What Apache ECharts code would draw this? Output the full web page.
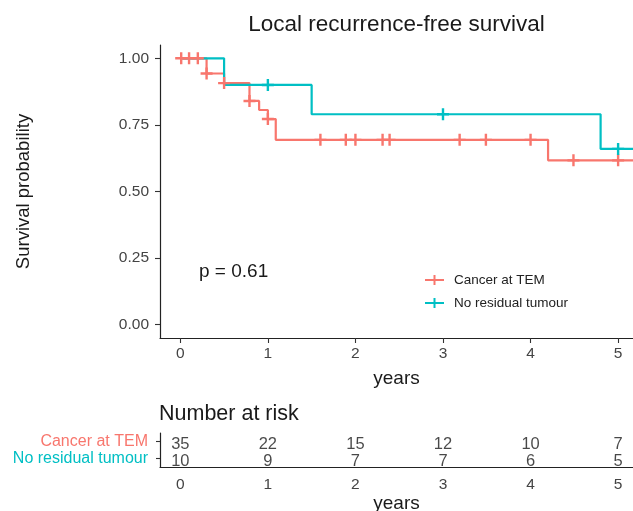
<!DOCTYPE html>
<html><head><meta charset="utf-8">
<script src="https://cdn.jsdelivr.net/npm/echarts@6/dist/echarts.min.js"></script>
<style>html,body{margin:0;padding:0;background:#fff}#c{width:633px;height:511px}</style>
</head><body><div id="c"></div>
<script>
// ---- data ----
const groups = ['Cancer at TEM', 'No residual tumour'];
// Kaplan–Meier step points: [time (years), survival after step]
const cancerTimes = [0, 0.30, 0.50, 0.79, 0.90, 1.00, 1.09, 4.20, 5.17];
const cancerSurv  = [1, 0.943, 0.907, 0.840, 0.806, 0.772, 0.694, 0.617, 0.617];
const cancerCensorTimes = [0.01, 0.10, 0.20, 0.30, 0.50, 0.79, 1.00, 1.60, 1.89, 2.00, 2.31, 2.39, 3.19, 3.49, 4.00, 4.49, 5.00];
const cancerCensorSurv  = [1, 1, 1, 0.943, 0.907, 0.840, 0.772, 0.694, 0.694, 0.694, 0.694, 0.694, 0.694, 0.694, 0.694, 0.617, 0.617];
const noResTimes = [0, 0.50, 1.50, 4.80, 5.17];
const noResSurv  = [1, 0.90, 0.79, 0.66, 0.66];
const noResCensorTimes = [1.00, 3.00, 5.00];
const noResCensorSurv  = [0.90, 0.79, 0.66];
const riskTimes = [0, 1, 2, 3, 4, 5];
const cancerAtRisk = [35, 22, 15, 12, 10, 7];
const noResAtRisk  = [10, 9, 7, 7, 6, 5];
const xTicks = [0, 1, 2, 3, 4, 5];
const yTicks = [0, 0.25, 0.5, 0.75, 1];
const titleText = 'Local recurrence-free survival';
const riskTitle = 'Number at risk';
const pText = 'p = 0.61';

// ---- chart ----
const RED = '#F8766D', CYAN = '#00BFC4';
const FONT = "'Liberation Sans', Arial, sans-serif";
const PLUS = 'path://M4,0h2v4h4v2h-4v4h-2v-4h-4v-2h4z';
const zip = (a, b) => a.map((v, i) => [v, b[i]]);
const XMIN = -0.232, XMAX = 5.17;
const axisLineStyle = { show: true, onZero: false, lineStyle: { color: '#222', width: 1.2 } };
const tickStyle = { lineStyle: { color: '#333', width: 1.1 } };

const chart = echarts.init(document.getElementById('c'), null, { renderer: 'canvas' });
chart.setOption({
  animation: false,
  backgroundColor: '#fff',
  textStyle: { fontFamily: FONT },
  title: [
    { text: titleText, left: 391.5, textAlign: 'center', top: 8,
      textStyle: { fontSize: 22.5, fontWeight: 'normal', color: '#1a1a1a', fontFamily: FONT } },
    { text: riskTitle, left: 154, top: 398,
      textStyle: { fontSize: 21.5, fontWeight: 'normal', color: '#1a1a1a', fontFamily: FONT } }
  ],
  legend: {
    orient: 'vertical', left: 420, top: 268, itemWidth: 19, itemHeight: 10, itemGap: 9,
    textStyle: { fontSize: 13.5, color: '#222', padding: [0, 0, 0, 5], fontFamily: FONT },
    data: [
      { name: groups[0], icon: 'path://M0,4h19v2h-19z M8.5,0h2v10h-2z', itemStyle: { color: RED } },
      { name: groups[1], icon: 'path://M0,4h19v2h-19z M8.5,0h2v10h-2z', itemStyle: { color: CYAN } }
    ]
  },
  graphic: [
    { type: 'text', left: 199, top: 262,
      style: { text: pText, fontSize: 19, fill: '#1a1a1a', fontFamily: FONT } }
  ],
  grid: [
    { left: 160, top: 45, width: 473, height: 293, outerBoundsMode: 'none' },
    { left: 160, top: 433, width: 473, height: 34, outerBoundsMode: 'none' }
  ],
  xAxis: [
    { type: 'value', gridIndex: 0, min: XMIN, max: XMAX, splitLine: { show: false },
      axisLine: axisLineStyle, axisTick: Object.assign({ customValues: xTicks, length: 5 }, tickStyle),
      axisLabel: { customValues: xTicks, fontSize: 15.5, color: '#444', margin: 8 },
      name: 'years', nameLocation: 'middle', nameGap: 31,
      nameTextStyle: { fontSize: 19, color: '#1a1a1a' } },
    { type: 'value', gridIndex: 1, position: 'bottom', min: XMIN, max: XMAX, splitLine: { show: false },
      axisLine: axisLineStyle, axisTick: Object.assign({ customValues: xTicks, length: 5 }, tickStyle),
      axisLabel: { customValues: xTicks, fontSize: 15.5, color: '#444', margin: 10 },
      name: 'years', nameLocation: 'middle', nameGap: 26, z: 10,
      nameTextStyle: { fontSize: 19, color: '#1a1a1a' } }
  ],
  yAxis: [
    { type: 'value', gridIndex: 0, min: -0.05, max: 1.05, splitLine: { show: false },
      axisLine: axisLineStyle,
      axisTick: Object.assign({ show: true, customValues: yTicks, length: 5 }, tickStyle),
      axisLabel: { customValues: yTicks, fontSize: 15.5, color: '#444', margin: 11,
                   formatter: v => Number(v).toFixed(2) },
      name: 'Survival probability', nameLocation: 'middle', nameGap: 127,
      nameTextStyle: { fontSize: 18.5, color: '#1a1a1a' } },
    { type: 'category', gridIndex: 1, data: [groups[1], groups[0]],
      axisLine: axisLineStyle,
      axisTick: Object.assign({ show: true, alignWithLabel: true, length: 4, interval: 0 }, tickStyle),
      axisLabel: { fontSize: 16, margin: 12, interval: 0,
                   color: (v) => v === groups[0] ? RED : CYAN } }
  ],
  series: [
    { name: groups[0], type: 'line', step: 'end', xAxisIndex: 0, yAxisIndex: 0,
      data: zip(cancerTimes, cancerSurv), showSymbol: false, symbol: 'none',
      lineStyle: { color: RED, width: 2.2 }, itemStyle: { color: RED }, z: 2 },
    { name: groups[1], type: 'line', step: 'end', xAxisIndex: 0, yAxisIndex: 0,
      data: zip(noResTimes, noResSurv), showSymbol: false, symbol: 'none',
      lineStyle: { color: CYAN, width: 2.2 }, itemStyle: { color: CYAN }, z: 3 },
    { name: groups[0], type: 'scatter', xAxisIndex: 0, yAxisIndex: 0,
      data: zip(cancerCensorTimes, cancerCensorSurv), symbol: PLUS, symbolSize: 12,
      itemStyle: { color: RED, opacity: 1 }, z: 4 },
    { name: groups[1], type: 'scatter', xAxisIndex: 0, yAxisIndex: 0,
      data: zip(noResCensorTimes, noResCensorSurv), symbol: PLUS, symbolSize: 12,
      itemStyle: { color: CYAN, opacity: 1 }, z: 5 },
    { name: 'risk-cancer', type: 'scatter', xAxisIndex: 1, yAxisIndex: 1,
      data: riskTimes.map((t, i) => [t, groups[0], cancerAtRisk[i]]),
      symbolSize: 1, itemStyle: { color: 'rgba(0,0,0,0)' },
      label: { show: true, position: 'inside', offset: [0, 3], formatter: p => p.value[2],
               fontSize: 16.5, color: '#1a1a1a', fontFamily: FONT } },
    { name: 'risk-nores', type: 'scatter', xAxisIndex: 1, yAxisIndex: 1,
      data: riskTimes.map((t, i) => [t, groups[1], noResAtRisk[i]]),
      symbolSize: 1, itemStyle: { color: 'rgba(0,0,0,0)' },
      label: { show: true, position: 'inside', offset: [0, 3], formatter: p => p.value[2],
               fontSize: 16.5, color: '#1a1a1a', fontFamily: FONT } }
  ]
});
</script>
</body></html>
